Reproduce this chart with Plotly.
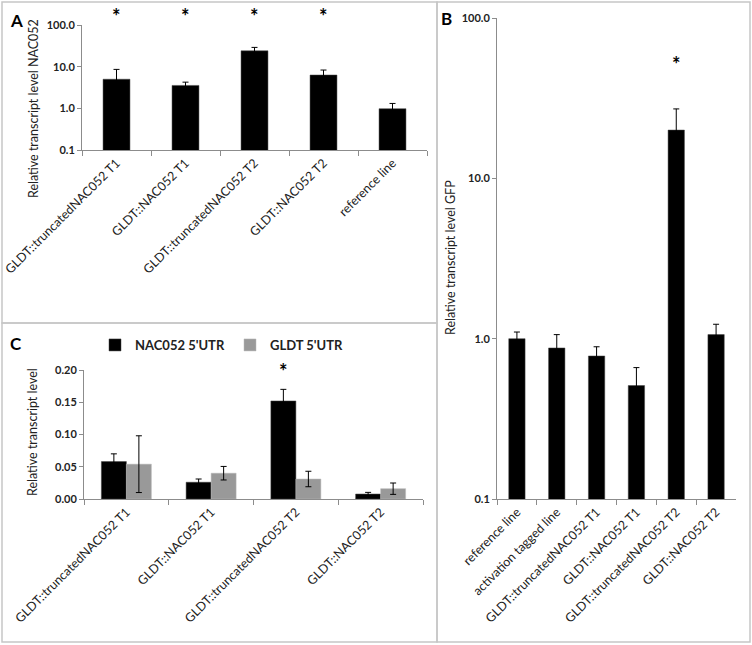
import plotly.graph_objects as go

W, H = 752, 645

# panel A: NAC052 transcript level (log)
cats_a = ["GLDT::truncatedNAC052 T1", "GLDT::NAC052 T1", "GLDT::truncatedNAC052 T2",
          "GLDT::NAC052 T2", "reference line"]
vals_a = [5.0, 3.55, 24.0, 6.3, 0.98]
err_a = [3.6, 0.7, 5.0, 2.0, 0.33]
sig_a = [True, True, True, True, False]

# panel B: GFP transcript level (log)
cats_b = ["reference line", "activation tagged line", "GLDT::truncatedNAC052 T1",
          "GLDT::NAC052 T1", "GLDT::truncatedNAC052 T2", "GLDT::NAC052 T2"]
vals_b = [1.0, 0.875, 0.78, 0.51, 20.0, 1.06]
err_b = [0.1, 0.185, 0.11, 0.15, 7.1, 0.17]
sig_b = [False, False, False, False, True, False]

# panel C: 5'UTR transcript levels
cats_c = ["GLDT::truncatedNAC052 T1", "GLDT::NAC052 T1", "GLDT::truncatedNAC052 T2",
          "GLDT::NAC052 T2"]
nac_c = [0.058, 0.026, 0.152, 0.0077]
nac_err = [0.012, 0.005, 0.018, 0.0026]
gldt_c = [0.054, 0.040, 0.031, 0.016]
gldt_err = [0.044, 0.0105, 0.012, 0.0088]
sig_c = [False, False, True, False]

FONT = "Lato"
AXC = "#8c8c8c"
BORDER = "#c6c6c6"


def px(x):
    return x / W


def py(y):
    return 1 - y / H


fig = go.Figure()

err_style = dict(type="data", color="black", thickness=1, width=3)

fig.add_trace(go.Bar(x=cats_a, y=vals_a, width=0.39, marker_color="black",
                     marker_line=dict(color="#444", width=0.5),
                     error_y=dict(array=err_a, **err_style),
                     showlegend=False, xaxis="x", yaxis="y"))
fig.add_trace(go.Bar(x=cats_b, y=vals_b, width=0.41, marker_color="black",
                     marker_line=dict(color="#444", width=0.5),
                     error_y=dict(array=err_b, **err_style),
                     showlegend=False, xaxis="x2", yaxis="y2"))
fig.add_trace(go.Bar(x=cats_c, y=nac_c, width=0.295, offset=-0.295, marker_color="black",
                     marker_line=dict(color="#444", width=0.5),
                     error_y=dict(array=nac_err, **err_style),
                     name="NAC052 5'UTR", xaxis="x3", yaxis="y3"))
fig.add_trace(go.Bar(x=cats_c, y=gldt_c, width=0.295, offset=0, marker_color="#999999",
                     marker_line=dict(color="#bbbbbb", width=0.5),
                     error_y=dict(array=gldt_err, **err_style),
                     name="GLDT 5'UTR", xaxis="x3", yaxis="y3"))

tickfont = dict(family=FONT, size=11, color="#222", weight="bold")
catfont = dict(family=FONT, size=12.5, color="#222")

xcommon = dict(type="category", showline=True, linecolor=AXC, linewidth=1,
               ticks="outside", tickson="boundaries", ticklen=5, tickcolor=AXC,
               tickangle=-45, tickfont=catfont, showgrid=False, zeroline=False,
               automargin=False, fixedrange=True)
ycommon = dict(showline=True, linecolor=AXC, linewidth=1, ticks="outside",
               ticklen=4, tickcolor=AXC, tickfont=tickfont, showgrid=False,
               zeroline=False, automargin=False)

fig.update_layout(
    width=W, height=H, margin=dict(l=0, r=0, t=0, b=0, autoexpand=False),
    paper_bgcolor="white", plot_bgcolor="white",
    font=dict(family=FONT, color="#222"),
    barmode="group",
    xaxis=dict(domain=[px(82), px(427)], anchor="y", **xcommon),
    yaxis=dict(domain=[py(150), py(25)], anchor="x", type="log", range=[-1, 2],
               tickvals=[0.1, 1, 10, 100], ticktext=["0.1", "1.0", "10.0", "100.0"],
               **ycommon),
    xaxis2=dict(domain=[px(497), px(736)], anchor="y2", **xcommon),
    yaxis2=dict(domain=[py(499), py(18)], anchor="x2", type="log", range=[-1, 2],
                tickvals=[0.1, 1, 10, 100], ticktext=["0.1", "1.0", "10.0", "100.0"],
                **ycommon),
    xaxis3=dict(domain=[px(84), px(423)], anchor="y3", **xcommon),
    yaxis3=dict(domain=[py(499), py(370)], anchor="x3", range=[0, 0.2], dtick=0.05,
                tickformat=".2f", **ycommon),
    legend=dict(orientation="h", x=px(95), y=py(330), xanchor="left", yanchor="top",
                font=dict(family=FONT, size=13, color="#222", weight="bold"),
                entrywidth=90, traceorder="normal", bgcolor="rgba(0,0,0,0)"),
)

# panel borders
for x0, y0, x1, y1 in [(2, 2, 437, 323), (2, 323, 437, 642), (437, 2, 750, 642)]:
    fig.add_shape(type="rect", xref="paper", yref="paper",
                  x0=px(x0), x1=px(x1), y0=py(y1), y1=py(y0),
                  line=dict(color=BORDER, width=1.5))

# panel letters
for letter, x, y in [("A", 16, 20), ("B", 446, 18), ("C", 16, 343)]:
    fig.add_annotation(text="<b>%s</b>" % letter, x=px(x), y=py(y), xref="paper",
                       yref="paper", showarrow=False, xanchor="center", yanchor="middle",
                       font=dict(family=FONT, size=17, color="black"))

# y-axis titles
for title, x, y in [("Relative transcript level NAC052", 33, 109),
                    ("Relative transcript level GFP", 450, 258),
                    ("Relative transcript level", 32, 432)]:
    fig.add_annotation(text=title, x=px(x), y=py(y), xref="paper", yref="paper",
                       textangle=-90, showarrow=False, xanchor="center", yanchor="middle",
                       font=dict(family=FONT, size=12.5, color="#222"))

# significance asterisks
star = dict(family=FONT, size=20, color="black", weight="bold")
for cats, sig, xr, ydom in [(cats_a, sig_a, "x", 1.07), (cats_b, sig_b, "x2", 0.905),
                            (cats_c, sig_c, "x3", 0.99)]:
    for c, s in zip(cats, sig):
        if s:
            xoff = -0.1475 if xr == "x3" else 0
            fig.add_annotation(text="*", x=cats.index(c) + xoff, y=ydom, xref=xr,
                               yref=("y" + xr[1:]) + " domain" if xr != "x" else "y domain",
                               showarrow=False, yanchor="middle", font=star)

fig.write_html("out.html", config={"displayModeBar": False},
               post_script="document.body.style.margin='0';")
